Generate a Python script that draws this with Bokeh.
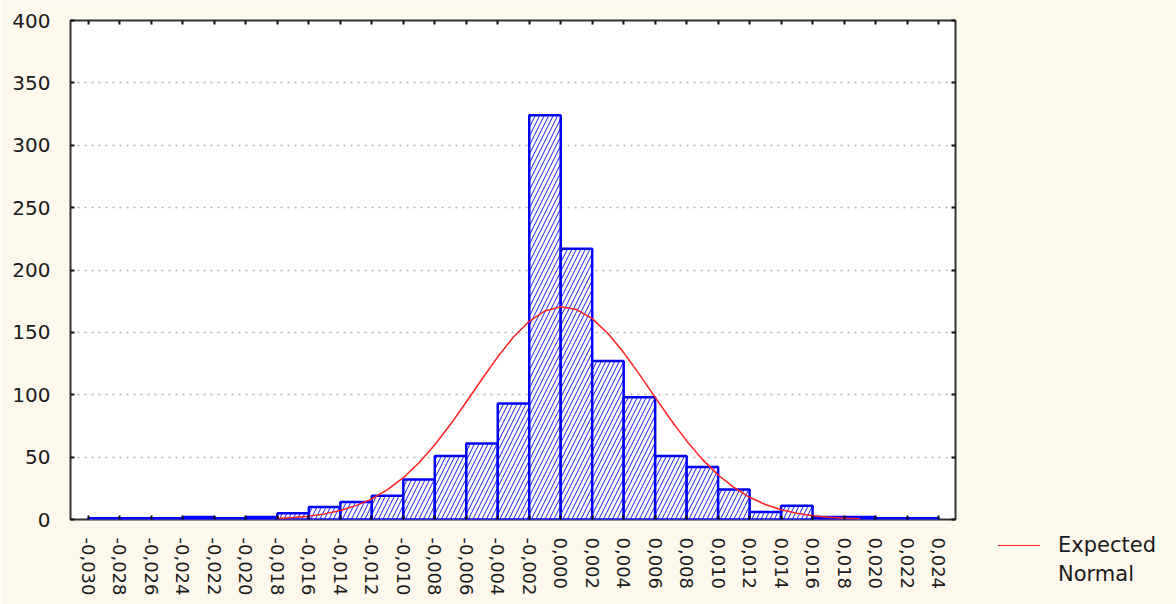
from bokeh.plotting import figure
from bokeh.layouts import row
from bokeh.models import FixedTicker, LinearAxis, Range1d, Div
from bokeh.embed import file_html
from bokeh.resources import INLINE

# ---- data ----
bin_edges = [-0.030, -0.028, -0.026, -0.024, -0.022, -0.020, -0.018, -0.016,
             -0.014, -0.012, -0.010, -0.008, -0.006, -0.004, -0.002, 0.000,
             0.002, 0.004, 0.006, 0.008, 0.010, 0.012, 0.014, 0.016, 0.018,
             0.020, 0.022, 0.024]
counts = [1, 1, 1, 2, 1, 2, 5, 10, 14, 19, 32, 51, 61, 93, 324, 217, 127, 98,
          51, 42, 24, 6, 11, 2, 2, 1, 1]

x_tick_labels = ["-0,030", "-0,028", "-0,026", "-0,024", "-0,022", "-0,020",
                 "-0,018", "-0,016", "-0,014", "-0,012", "-0,010", "-0,008",
                 "-0,006", "-0,004", "-0,002", "0,000", "0,002", "0,004",
                 "0,006", "0,008", "0,010", "0,012", "0,014", "0,016", "0,018",
                 "0,020", "0,022", "0,024"]
y_ticks = [0, 50, 100, 150, 200, 250, 300, 350, 400]

normal_x = [-0.018, -0.017, -0.016, -0.015, -0.014, -0.013, -0.012, -0.011,
            -0.010, -0.009, -0.008, -0.007, -0.006, -0.005, -0.004, -0.003,
            -0.002, -0.001, 0.000, 0.001, 0.002, 0.003, 0.004, 0.005, 0.006,
            0.007, 0.008, 0.009, 0.010, 0.011, 0.012, 0.013, 0.014, 0.015,
            0.016, 0.017, 0.018, 0.019]
normal_y = [0.9, 1.6, 2.7, 4.5, 7.2, 11.1, 16.5, 23.9, 33.5, 45.5, 59.9, 76.3,
            94.2, 112.6, 130.4, 146.3, 158.9, 167.2, 170.5, 168.3, 161.0,
            149.1, 133.8, 116.3, 97.9, 79.8, 63.0, 48.2, 35.7, 25.7, 17.8,
            12.0, 7.8, 5.0, 3.0, 1.8, 1.0, 0.6]

legend_lines = ["Expected", "Normal"]

BG = "#FDF8EC"
FONT = "DejaVu Sans"
TXT = "#1a1a1a"
FRAME = "#333333"
CURVE = "#ff2020"
W, H = 1176, 604
MAIN_W = 965

fig = figure(width=MAIN_W, height=H,
             x_range=Range1d(-0.031144, 0.02508), y_range=Range1d(0, 400),
             output_backend="svg", toolbar_location=None,
             min_border_left=70, min_border_right=MAIN_W - 955,
             min_border_top=20, min_border_bottom=85,
             background_fill_color="white", border_fill_color=BG,
             outline_line_color=FRAME, outline_line_width=2)

# bars
fig.quad(left=bin_edges[:-1], right=bin_edges[1:], bottom=0, top=counts,
         fill_color="white", line_color="#0000ff", line_width=2.5,
         hatch_pattern="/", hatch_color="#0000ff", hatch_scale=9,
         hatch_weight=0.9)

# expected normal curve
fig.line(normal_x, normal_y, line_color=CURVE, line_width=1.5)

# grid and axes
fig.xgrid.grid_line_color = None
fig.ygrid.ticker = FixedTicker(ticks=y_ticks)
fig.ygrid.grid_line_color = "#b4b4b4"
fig.ygrid.grid_line_dash = "2 5"
fig.ygrid.grid_line_width = 1.3

xa = fig.xaxis[0]
xa.ticker = FixedTicker(ticks=bin_edges)
xa.major_label_overrides = {t: s for t, s in zip(bin_edges, x_tick_labels)}
xa.major_label_orientation = "vertical"
xa.major_label_standoff = 18
xa.major_label_text_font = FONT
xa.major_label_text_font_size = "18px"
xa.major_label_text_color = TXT

ya = fig.yaxis[0]
ya.ticker = FixedTicker(ticks=y_ticks)
ya.major_label_standoff = 20
ya.major_label_text_font = FONT
ya.major_label_text_font_size = "20px"
ya.major_label_text_color = TXT

for ax in (xa, ya):
    ax.axis_line_color = None
    ax.major_tick_in = 4
    ax.major_tick_out = 0
    ax.major_tick_line_color = "#111111"
    ax.major_tick_line_width = 2
    ax.minor_tick_line_color = None

top = LinearAxis(ticker=FixedTicker(ticks=bin_edges), axis_line_color=None,
                 major_tick_in=4, major_tick_out=0, major_tick_line_width=2,
                 major_tick_line_color="#111111", minor_tick_line_color=None,
                 major_label_text_font_size="0px", major_label_text_color=None,
                 major_label_standoff=0)
right = LinearAxis(ticker=FixedTicker(ticks=y_ticks), axis_line_color=None,
                   major_tick_in=4, major_tick_out=0, major_tick_line_width=2,
                   major_tick_line_color="#111111", minor_tick_line_color=None,
                   major_label_text_font_size="0px", major_label_text_color=None,
                   major_label_standoff=0)
fig.add_layout(top, "above")
fig.add_layout(right, "right")

# legend column to the right of the chart (HTML, so it is not clipped)
LEG_W = W - MAIN_W
legend_html = (
    f'<div style="position:relative;width:{LEG_W}px;height:{H}px;'
    f'background:{BG};margin:0;padding:0;">'
    f'<div style="position:absolute;left:33px;top:545px;width:42px;height:0;'
    f'border-top:1.5px solid {CURVE};"></div>'
    f'<div style="position:absolute;left:93px;top:531px;white-space:nowrap;'
    f"font-family:'{FONT}';font-size:21px;line-height:29px;color:{TXT};\">"
    f'{legend_lines[0]}<br>{legend_lines[1]}</div>'
    f'</div>'
)
leg = Div(text=legend_html, width=LEG_W, height=H, margin=0,
          styles={"background-color": BG})

p = row(fig, leg, spacing=0)

open("out.html", "w").write(file_html(p, INLINE))
